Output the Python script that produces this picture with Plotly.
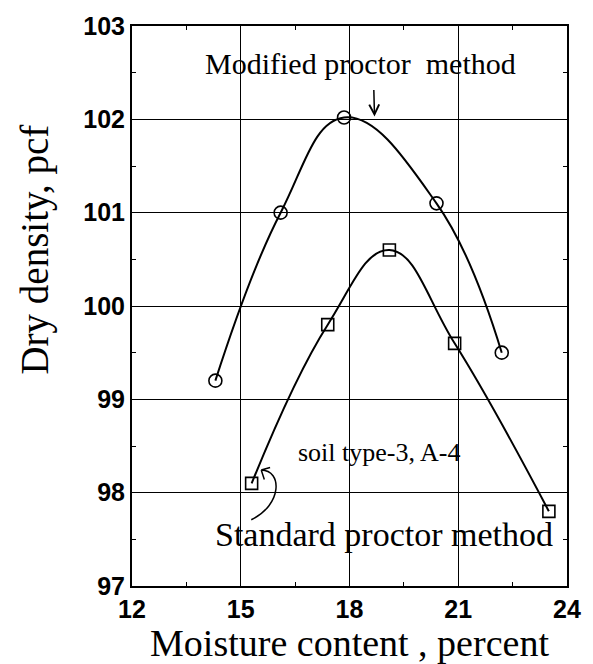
import plotly.graph_objects as go

# Data
mod_x = [14.3, 16.1, 17.85, 20.4, 22.2]
mod_y = [99.2, 101.0, 102.02, 101.1, 99.5]
std_x = [15.3, 17.4, 19.1, 20.9, 23.5]
std_y = [98.1, 99.8, 100.6, 99.6, 97.8]

x_ticks = [12, 15, 18, 21, 24]
y_ticks = [97, 98, 99, 100, 101, 102, 103]

SERIF = "Liberation Serif, Times New Roman, serif"
SANS = "Liberation Sans, Arial, sans-serif"

fig = go.Figure()
fig.add_trace(go.Scatter(
    x=mod_x, y=mod_y, mode="lines+markers", name="Modified",
    line=dict(color="black", width=2, shape="spline", smoothing=1.2),
    marker=dict(symbol="circle-open", size=13, color="black", line=dict(width=1.6)),
))
fig.add_trace(go.Scatter(
    x=std_x, y=std_y, mode="lines+markers", name="Standard",
    line=dict(color="black", width=2, shape="spline", smoothing=1.2),
    marker=dict(symbol="square-open", size=12, color="black", line=dict(width=1.6)),
))

axis_common = dict(
    showline=True, linecolor="black", linewidth=2, mirror="ticks",
    showgrid=True, gridcolor="black", gridwidth=1,
    ticks="inside", ticklen=5, tickcolor="black",
    zeroline=False,
    tickfont=dict(family=SANS, size=25, color="black", weight="bold"),
)

fig.update_xaxes(
    range=[12, 24], tickvals=x_ticks, ticktext=[str(v) for v in x_ticks],
    minor=dict(dtick=1.5, ticks="inside", ticklen=4, tickcolor="black", showgrid=False),
    title=dict(text="Moisture content , percent", font=dict(family=SERIF, size=38, color="black"), standoff=2),
    **axis_common,
)
fig.update_yaxes(
    range=[97, 103], tickvals=y_ticks, ticktext=[str(v) for v in y_ticks],
    minor=dict(dtick=0.5, ticks="inside", ticklen=4, tickcolor="black", showgrid=False),
    **axis_common,
)

# Y-axis title placed as rotated text (sits above the plot centre in the original)
fig.add_annotation(xref="paper", yref="y", x=-0.224, y=100.6, xanchor="center", yanchor="middle",
                   text="Dry density, pcf", textangle=-90, showarrow=False,
                   font=dict(family=SERIF, size=39, color="black"))

# Annotations
fig.add_annotation(x=18.29, y=102.6, text="Modified proctor  method", showarrow=False,
                   font=dict(family=SERIF, size=30, color="black"))
fig.add_annotation(x=18.69, y=102.03, ax=18.67, ay=102.33, axref="x", ayref="y",
                   text="", showarrow=True, arrowhead=5, arrowsize=1.3, arrowwidth=1.5, arrowcolor="black")
fig.add_annotation(x=18.83, y=98.43, text="soil type-3, A-4", showarrow=False,
                   font=dict(family=SERIF, size=26, color="black"))
fig.add_annotation(x=18.95, y=97.55, text="Standard proctor method", showarrow=False,
                   font=dict(family=SERIF, size=34, color="black"))
# curved arrow (with open head) pointing to the standard curve's first point
fig.add_shape(type="path", xref="x", yref="y",
              path=("M 15.29,97.71 C 16.15,97.87 16.15,98.24 15.565,98.243 "
                    "M 15.565,98.243 L 15.81,98.27 "
                    "M 15.565,98.243 L 15.65,98.14"),
              line=dict(color="black", width=1.5))

fig.update_layout(
    width=593, height=664,
    margin=dict(l=132, r=19, t=20, b=77),
    paper_bgcolor="white", plot_bgcolor="white",
    showlegend=False,
)

fig.write_html("out.html")
